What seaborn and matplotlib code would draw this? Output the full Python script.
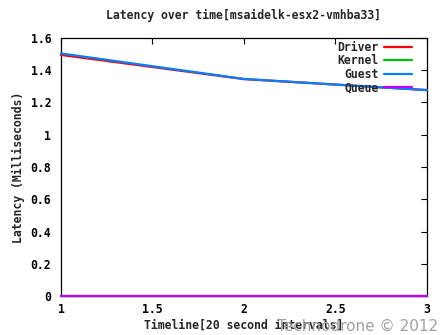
import pandas as pd
import seaborn as sns
import matplotlib
matplotlib.use('Agg')
import matplotlib.pyplot as plt

sns.set_theme(style='white')
plt.rcParams['font.family'] = ['DejaVu Sans Mono', 'DejaVu Sans']

timeline = [1, 2, 3]
driver = [1.495, 1.345, 1.277]
kernel = [0.0, 0.0, 0.0]
guest = [1.504, 1.346, 1.277]
queue = [0.0, 0.0, 0.0]

series_names = ['Driver', 'Kernel', 'Guest', 'Queue']
series_values = [driver, kernel, guest, queue]
palette = {'Driver': '#ff0000', 'Kernel': '#00c000', 'Guest': '#0080ff', 'Queue': '#c000ff'}

rows = []
for name, vals in zip(series_names, series_values):
    for t, v in zip(timeline, vals):
        rows.append({'Timeline': t, 'Latency': v, 'Series': name})
df = pd.DataFrame(rows)

fs = 8.3
fig = plt.figure(figsize=(4.47, 3.35), dpi=100)
ax = fig.add_axes([0.1365, 0.1164, 0.8185, 0.7702])
sns.lineplot(data=df, x='Timeline', y='Latency', hue='Series', hue_order=series_names,
             palette=palette, linewidth=1.6, ax=ax)
for ln in ax.get_lines():
    ln.set_clip_on(False)
    ln.set_zorder(3)

ax.set_xlim(1, 3)
ax.set_ylim(0, 1.6)
ax.set_xticks([1, 1.5, 2, 2.5, 3])
ax.set_xticklabels(['1', '1.5', '2', '2.5', '3'])
ax.set_yticks([0, 0.2, 0.4, 0.6, 0.8, 1, 1.2, 1.4, 1.6])
ax.set_yticklabels(['0', '0.2', '0.4', '0.6', '0.8', '1', '1.2', '1.4', '1.6'])
ax.tick_params(direction='in', length=4, width=0.8, top=True, right=True,
               labelsize=fs, colors='black', pad=7)
ax.tick_params(axis='x', pad=5)
for lab in ax.get_xticklabels() + ax.get_yticklabels():
    lab.set_fontweight('bold')
for s in ax.spines.values():
    s.set_color('black')
    s.set_linewidth(0.9)
    s.set_zorder(2)

ax.set_xlabel('Timeline[20 second intervals]', fontsize=fs, fontweight='bold', va='center')
ax.xaxis.set_label_coords(0.5, -0.112)
ax.set_ylabel('Latency (Milliseconds)', fontsize=fs, fontweight='bold', labelpad=4)
ax.set_title('Latency over time[msaidelk-esx2-vmhba33]', fontsize=fs, fontweight='bold', pad=14)

leg = ax.legend(loc='upper right', frameon=False, markerfirst=False, fontsize=fs,
                handlelength=2.4, labelspacing=0.05, borderaxespad=0.1,
                handletextpad=0.5, bbox_to_anchor=(0.975, 1.012))
for t in leg.get_texts():
    t.set_fontweight('bold')
    t.set_horizontalalignment('right')
for h in leg.get_lines():
    h.set_linewidth(1.6)

fig.text(0.98, 0.003, 'Technodrone \u00a9 2012', ha='right', va='bottom',
         fontsize=11, color='#a0a0a0', family=['DejaVu Sans'])

fig.savefig('out.png', dpi=100)
